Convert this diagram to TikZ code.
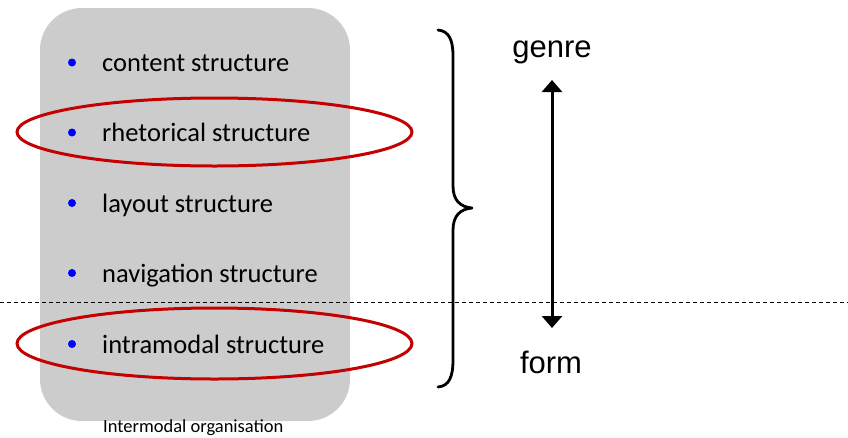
\documentclass[tikz,border=0pt]{standalone}
\usepackage{fontspec}
\setmainfont{Carlito}
\newfontfamily\arialish{Liberation Sans}
\usetikzlibrary{arrows.meta}
\definecolor{panelgrey}{RGB}{204,204,204}
\definecolor{ringred}{RGB}{196,0,0}
\definecolor{dotblue}{RGB}{0,0,255}
\begin{document}
\begin{tikzpicture}[x=1pt,y=-1pt,
  panel/.style={fill=panelgrey,draw=none,rounded corners=42pt},
  item/.style={anchor=base west,inner sep=0pt,font=\fontsize{26.5}{30}\selectfont},
  dot/.style={circle,fill=dotblue,inner sep=0pt,minimum size=8pt},
  bigword/.style={inner sep=0pt,anchor=base,font=\arialish\fontsize{31}{34}\selectfont},
  brace/.style={line width=2.8pt,line cap=round,line join=round},
  scale arrow/.style={line width=3pt,{Triangle[width=20pt,length=12pt]}-{Triangle[width=20pt,length=12pt]}},
  divider/.style={line width=0.8pt,dash pattern=on 4pt off 3pt}]
\useasboundingbox (0,0) rectangle (848,437);

% grey panel behind the list
\fill[panel] (40,8) rectangle (350,421);

% list of structures (dot centre, text baseline)
\foreach \n/\y/\t in {c/62.5/content structure,r/132.5/rhetorical structure,
                      l/203/layout structure,n/273/navigation structure,
                      i/344/intramodal structure}{
  \node[dot] (dot\n) at (72,\y) {};
  \node[item] (txt\n) at (102,\y+9) {\t};
}
\node[item,font=\fontsize{18.5}{21}\selectfont] (caption) at (103,432.5) {Intermodal organisation};

% highlighted items
\draw[ringred,line width=3pt] (214.5,132) ellipse [x radius=197.5,y radius=34];
\draw[ringred,line width=3pt] (214.5,343.5) ellipse [x radius=197.5,y radius=35.5];

% dividing line
\coordinate (dl) at (0,302);
\coordinate (dr) at (848,302);
\draw[divider] (dl) -- (dr);

% brace spanning the list
\coordinate (btop) at (438,30);
\coordinate (btip) at (472,208);
\coordinate (bbot) at (438,387);
\draw[brace] (btop) .. controls (449,31) and (453,40) .. (453,56) -- (453,186)
  .. controls (453,200) and (460,207) .. (btip)
  .. controls (460,209) and (453,216) .. (453,230) -- (453,360)
  .. controls (453,377) and (449,386) .. (bbot);

% genre -- form scale
\node[bigword] (genre) at (552,57) {genre};
\node[bigword] (form) at (551,373.5) {form};
\coordinate (atop) at (552,80);
\coordinate (abot) at (552,328);
\draw[scale arrow] (atop) -- (abot);
\end{tikzpicture}
\end{document}
